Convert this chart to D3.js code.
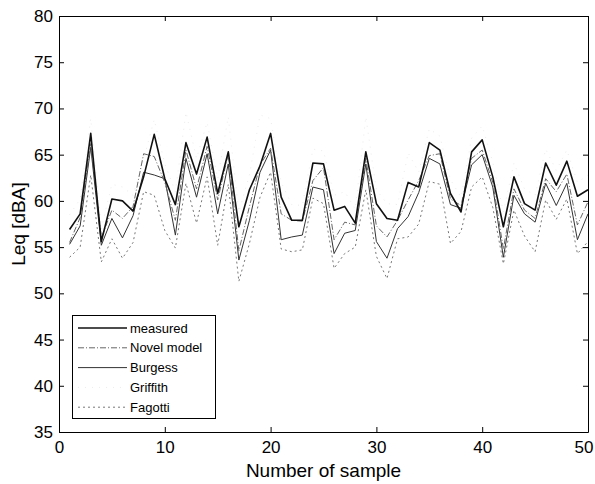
<!DOCTYPE html>
<html>
<head>
<meta charset="utf-8">
<script src="https://cdn.jsdelivr.net/npm/d3@7"></script>
<style>
  html, body { margin: 0; padding: 0; background: #fff; }
  svg { display: block; font-family: "Liberation Sans", Arial, sans-serif; }
</style>
</head>
<body>
<svg id="chart" width="595" height="484"></svg>
<script>
// ---- data ----
const samples = d3.range(1, 51);
const measured = [56.9, 58.6, 67.3, 55.6, 60.2, 60.0, 58.9, 62.6, 67.2, 62.4,
  59.6, 66.3, 62.9, 66.9, 60.8, 65.3, 57.2, 61.2, 63.8, 67.3,
  60.4, 57.9, 57.9, 64.1, 64.0, 59.0, 59.4, 57.6, 65.3, 59.7,
  58.1, 57.9, 62.0, 61.5, 66.3, 65.5, 60.8, 58.8, 65.3, 66.6,
  62.6, 57.2, 62.6, 59.7, 59.0, 64.1, 61.7, 64.3, 60.5, 61.2];
const novelModel = [55.5, 58.2, 66.2, 56.0, 59.0, 58.1, 59.4, 65.1, 64.8, 62.0,
  57.9, 65.5, 61.3, 65.9, 60.1, 65.1, 54.6, 59.4, 63.9, 65.7,
  58.6, 57.9, 57.8, 62.2, 63.6, 55.8, 57.7, 57.4, 64.6, 57.3,
  56.1, 57.9, 60.1, 62.2, 64.9, 65.1, 60.2, 59.5, 64.6, 65.5,
  62.0, 54.8, 61.3, 59.0, 58.1, 62.4, 61.0, 62.9, 57.4, 59.9];
const burgess = [55.3, 57.3, 65.8, 55.2, 58.1, 56.0, 58.4, 63.1, 62.8, 62.4,
  56.3, 64.6, 60.4, 65.1, 58.6, 64.0, 53.6, 57.9, 63.1, 65.5,
  55.8, 56.1, 56.3, 61.5, 61.2, 54.3, 56.5, 56.8, 64.0, 55.6,
  53.8, 57.0, 58.3, 60.9, 64.6, 64.0, 59.6, 59.2, 63.9, 65.0,
  61.5, 53.9, 60.6, 58.6, 57.7, 61.9, 59.5, 61.9, 55.8, 58.6];
const griffith = [58.5, 60.2, 68.9, 57.0, 61.8, 61.5, 60.6, 64.5, 68.8, 64.0,
  61.0, 69.6, 64.6, 68.5, 62.4, 69.1, 58.8, 62.8, 69.3, 68.9,
  62.0, 59.6, 59.5, 65.6, 65.4, 60.6, 61.0, 59.1, 69.1, 61.2,
  59.7, 59.6, 65.2, 63.1, 67.8, 67.0, 62.3, 60.4, 66.8, 68.1,
  64.2, 58.8, 64.1, 61.3, 60.6, 65.6, 63.3, 65.5, 62.0, 62.8];
const fagotti = [53.9, 55.0, 62.8, 53.4, 55.9, 53.8, 55.5, 61.0, 60.6, 56.8,
  54.9, 61.9, 57.6, 62.6, 55.2, 61.8, 51.3, 55.4, 60.4, 63.1,
  54.8, 54.5, 54.7, 60.3, 59.7, 52.7, 54.3, 55.0, 61.2, 54.0,
  51.6, 55.9, 56.1, 57.5, 62.1, 61.8, 55.4, 56.7, 61.5, 62.6,
  59.3, 53.2, 59.0, 56.2, 54.5, 60.1, 58.0, 60.2, 54.3, 55.6];
const seriesNames = ["measured", "Novel model", "Burgess", "Griffith", "Fagotti"];
const xTicks = [0, 10, 20, 30, 40, 50];
const yTicks = [35, 40, 45, 50, 55, 60, 65, 70, 75, 80];

// styles (kept separate from data)
const styles = {
  "measured":    { color: "#111", width: 1.6, dash: null },
  "Novel model": { color: "#666", width: 1.0, dash: "6,2,1,2" },
  "Burgess":     { color: "#333", width: 1.0, dash: null },
  "Griffith":    { color: "#ececec", width: 1.0, dash: "1,6" },
  "Fagotti":     { color: "#777", width: 1.0, dash: "2,3" }
};
const seriesData = {
  "measured": measured, "Novel model": novelModel, "Burgess": burgess,
  "Griffith": griffith, "Fagotti": fagotti
};

const svg = d3.select("#chart");
const L = 59, R = 588, T = 16, B = 432;
const x = d3.scaleLinear().domain([0, 50]).range([L, R]);
const y = d3.scaleLinear().domain([35, 80]).range([B, T]);

// lines (draw back to front)
const line = d3.line().x((d, i) => x(samples[i])).y(d => y(d));
["Griffith", "Fagotti", "Burgess", "Novel model", "measured"].forEach(name => {
  const s = styles[name];
  svg.append("path")
    .datum(seriesData[name])
    .attr("fill", "none")
    .attr("stroke", s.color)
    .attr("stroke-width", s.width)
    .attr("stroke-dasharray", s.dash)
    .attr("stroke-linejoin", "round")
    .attr("d", line);
});

// axes (MATLAB-like inward ticks, full box)
const tick = 5;
const fs = "17px";
const gB = svg.append("g").attr("transform", `translate(0,${B})`)
  .call(d3.axisBottom(x).tickValues(xTicks).tickSize(-tick).tickPadding(9).tickSizeOuter(0));
const gT = svg.append("g").attr("transform", `translate(0,${T})`)
  .call(d3.axisTop(x).tickValues(xTicks).tickSize(-tick).tickFormat("").tickSizeOuter(0));
const gL = svg.append("g").attr("transform", `translate(${L},0)`)
  .call(d3.axisLeft(y).tickValues(yTicks).tickSize(-tick).tickPadding(6).tickSizeOuter(0));
const gR = svg.append("g").attr("transform", `translate(${R},0)`)
  .call(d3.axisRight(y).tickValues(yTicks).tickSize(-tick).tickFormat("").tickSizeOuter(0));
[gB, gT, gL, gR].forEach(g => {
  g.selectAll(".domain").attr("stroke", "#000").attr("stroke-width", 1);
  g.selectAll(".tick line").attr("stroke", "#000");
  g.selectAll("text").attr("fill", "#000").style("font-size", fs)
    .style("font-family", "'Liberation Sans', Arial, sans-serif");
});
// keep the last x tick label inside the picture
gB.selectAll(".tick text").filter(d => d === 50).attr("text-anchor", "end").attr("dx", "5");

// axis labels
svg.append("text")
  .attr("x", (L + R) / 2).attr("y", 477)
  .attr("text-anchor", "middle")
  .style("font-size", "19px").attr("fill", "#000")
  .text("Number of sample");
svg.append("text")
  .attr("transform", `translate(25,${(T + B) / 2}) rotate(-90)`)
  .attr("text-anchor", "middle")
  .style("font-size", "19px").attr("fill", "#000")
  .text("Leq [dBA]");

// legend
const lg = svg.append("g");
lg.append("rect")
  .attr("x", 72.5).attr("y", 315.5).attr("width", 143).attr("height", 103)
  .attr("fill", "#fff").attr("stroke", "#000").attr("stroke-width", 1);
seriesNames.forEach((name, i) => {
  const s = styles[name];
  const cy = 328 + i * 19.8;
  lg.append("line")
    .attr("x1", 78).attr("x2", 127).attr("y1", cy).attr("y2", cy)
    .attr("stroke", s.color).attr("stroke-width", s.width)
    .attr("stroke-dasharray", s.dash);
  lg.append("text")
    .attr("x", 130).attr("y", cy).attr("dy", "0.35em")
    .style("font-size", "13px").attr("fill", "#000")
    .text(name);
});
</script>
</body>
</html>
